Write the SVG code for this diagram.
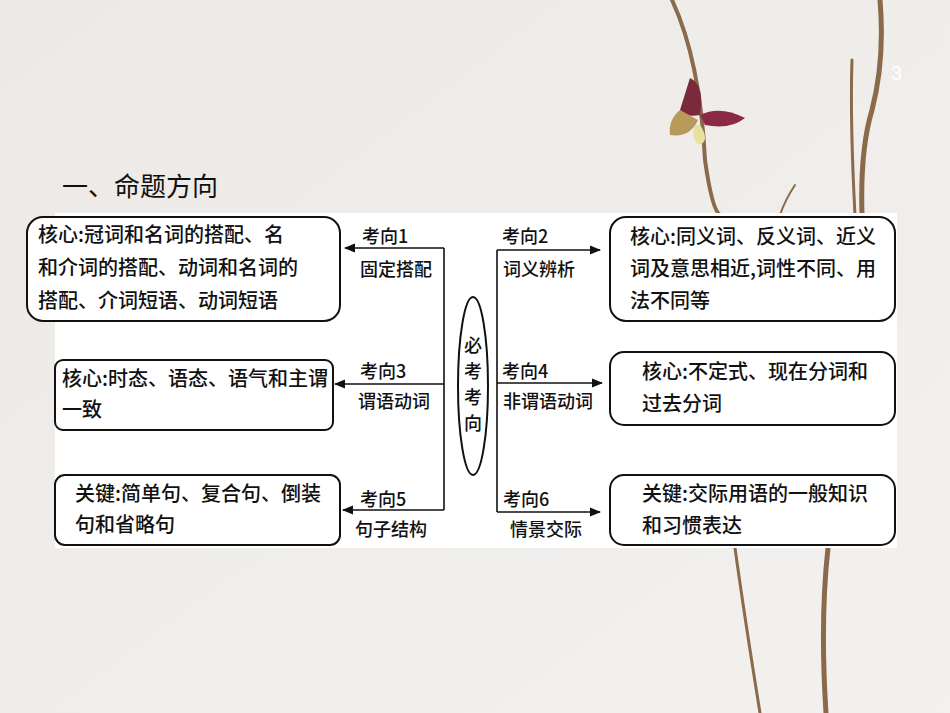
<svg xmlns="http://www.w3.org/2000/svg" width="950" height="713" viewBox="0 0 950 713">
<defs>
<style>
.t{font-family:"Noto Sans CJK SC",sans-serif;font-size:18px;fill:#111;font-weight:500}
.t2{font-family:"Noto Sans CJK SC",sans-serif;font-size:20px;fill:#111;font-weight:500}
.b{fill:#fff;stroke:#111;stroke-width:2}
.c{stroke:#111;stroke-width:1.6;fill:none}
.br{stroke:#8a6a4a;fill:none;stroke-linecap:round}
</style>
<marker id="a" viewBox="0 0 10 10" refX="9" refY="5" markerWidth="7" markerHeight="7" orient="auto"><path d="M0,1 L10,5 L0,9 z" fill="#111"/></marker>
<linearGradient id="bg" x1="0" y1="0" x2="1" y2="1"><stop offset="0" stop-color="#ece9e6"/><stop offset="1" stop-color="#f3f1ef"/></linearGradient>
</defs>
<rect width="950" height="713" fill="url(#bg)"/>
<g id="branches">
<path class="br" stroke-width="4" d="M672,0 Q700,60 705,160 Q712,210 720,215"/>
<path class="br" stroke-width="5" d="M880,0 Q885,60 872,110 Q860,150 862,215"/>
<path class="br" stroke-width="3" d="M852,60 Q850,120 855,215"/>
<path class="br" stroke-width="2" d="M795,185 Q785,200 780,215"/>
<path class="br" stroke-width="5" d="M828,548 Q820,620 826,713"/>
<path class="br" stroke-width="3" d="M735,548 Q745,620 760,713"/>
<path d="M690,78 Q705,85 700,115 Q685,118 680,110 Z" fill="#7a2a3a"/>
<path d="M700,115 Q720,105 745,118 Q730,130 705,125 Z" fill="#8a2a45"/>
<path d="M680,110 Q668,120 670,135 Q690,138 698,120 Z" fill="#b89a5a"/>
<path d="M700,125 Q710,140 700,145 Q690,140 695,125 Z" fill="#e8e0a0"/>
</g>
<text x="891" y="80" font-family="Liberation Sans,sans-serif" font-size="20" fill="#fff">3</text>
<text x="62" y="196" font-family="Noto Sans CJK SC,sans-serif" font-size="26" fill="#111">一、命题方向</text>
<rect x="55" y="213" width="842" height="335" fill="#fff"/>
<g id="connectors">
<path class="c" d="M444,248 V510"/>
<path class="c" d="M444,248 H345" marker-end="url(#a)"/>
<path class="c" d="M444,384 H335" marker-end="url(#a)"/>
<path class="c" d="M444,510 H343" marker-end="url(#a)"/>
<path class="c" d="M497,250 V512"/>
<path class="c" d="M497,250 H600" marker-end="url(#a)"/>
<path class="c" d="M497,383 H602" marker-end="url(#a)"/>
<path class="c" d="M497,512 H600" marker-end="url(#a)"/>
<g class="t">
<text x="362" y="243">考向1</text><text x="360" y="276">固定搭配</text>
<text x="360" y="378">考向3</text><text x="358" y="408">谓语动词</text>
<text x="360" y="506">考向5</text><text x="355" y="536">句子结构</text>
<text x="502" y="243">考向2</text><text x="503" y="276">词义辨析</text>
<text x="502" y="378">考向4</text><text x="503" y="408">非谓语动词</text>
<text x="503" y="506">考向6</text><text x="510" y="536">情景交际</text>
</g>
</g>
<g id="center">
<ellipse class="b" cx="473" cy="386" rx="15" ry="89" stroke-width="1.6"/>
<g class="t" text-anchor="middle"><text x="473" y="352">必</text><text x="473" y="378">考</text><text x="473" y="404">考</text><text x="473" y="430">向</text></g>
</g>
<g id="L1"><rect class="b" x="27" y="217" width="313" height="104" rx="16"/><g class="t2"><text x="38" y="242">核心:冠词和名词的搭配、名</text><text x="38" y="275">和介词的搭配、动词和名词的</text><text x="38" y="308">搭配、介词短语、动词短语</text></g></g>
<g id="L2"><rect class="b" x="55" y="360" width="278" height="70" rx="8"/><g class="t2"><text x="62" y="386">核心:时态、语态、语气和主谓</text><text x="62" y="417">一致</text></g></g>
<g id="L3"><rect class="b" x="55" y="475" width="285" height="70" rx="10"/><g class="t2"><text x="75" y="501">关键:简单句、复合句、倒装</text><text x="75" y="532">句和省略句</text></g></g>
<g id="R1"><rect class="b" x="610" y="217" width="285" height="104" rx="16"/><g class="t2"><text x="630" y="244">核心:同义词、反义词、近义</text><text x="630" y="276">词及意思相近,词性不同、用</text><text x="630" y="308">法不同等</text></g></g>
<g id="R2"><rect class="b" x="610" y="352" width="285" height="73" rx="14"/><g class="t2"><text x="642" y="379">核心:不定式、现在分词和</text><text x="642" y="411">过去分词</text></g></g>
<g id="R3"><rect class="b" x="610" y="475" width="285" height="70" rx="14"/><g class="t2"><text x="642" y="501">关键:交际用语的一般知识</text><text x="642" y="533">和习惯表达</text></g></g>
</svg>
